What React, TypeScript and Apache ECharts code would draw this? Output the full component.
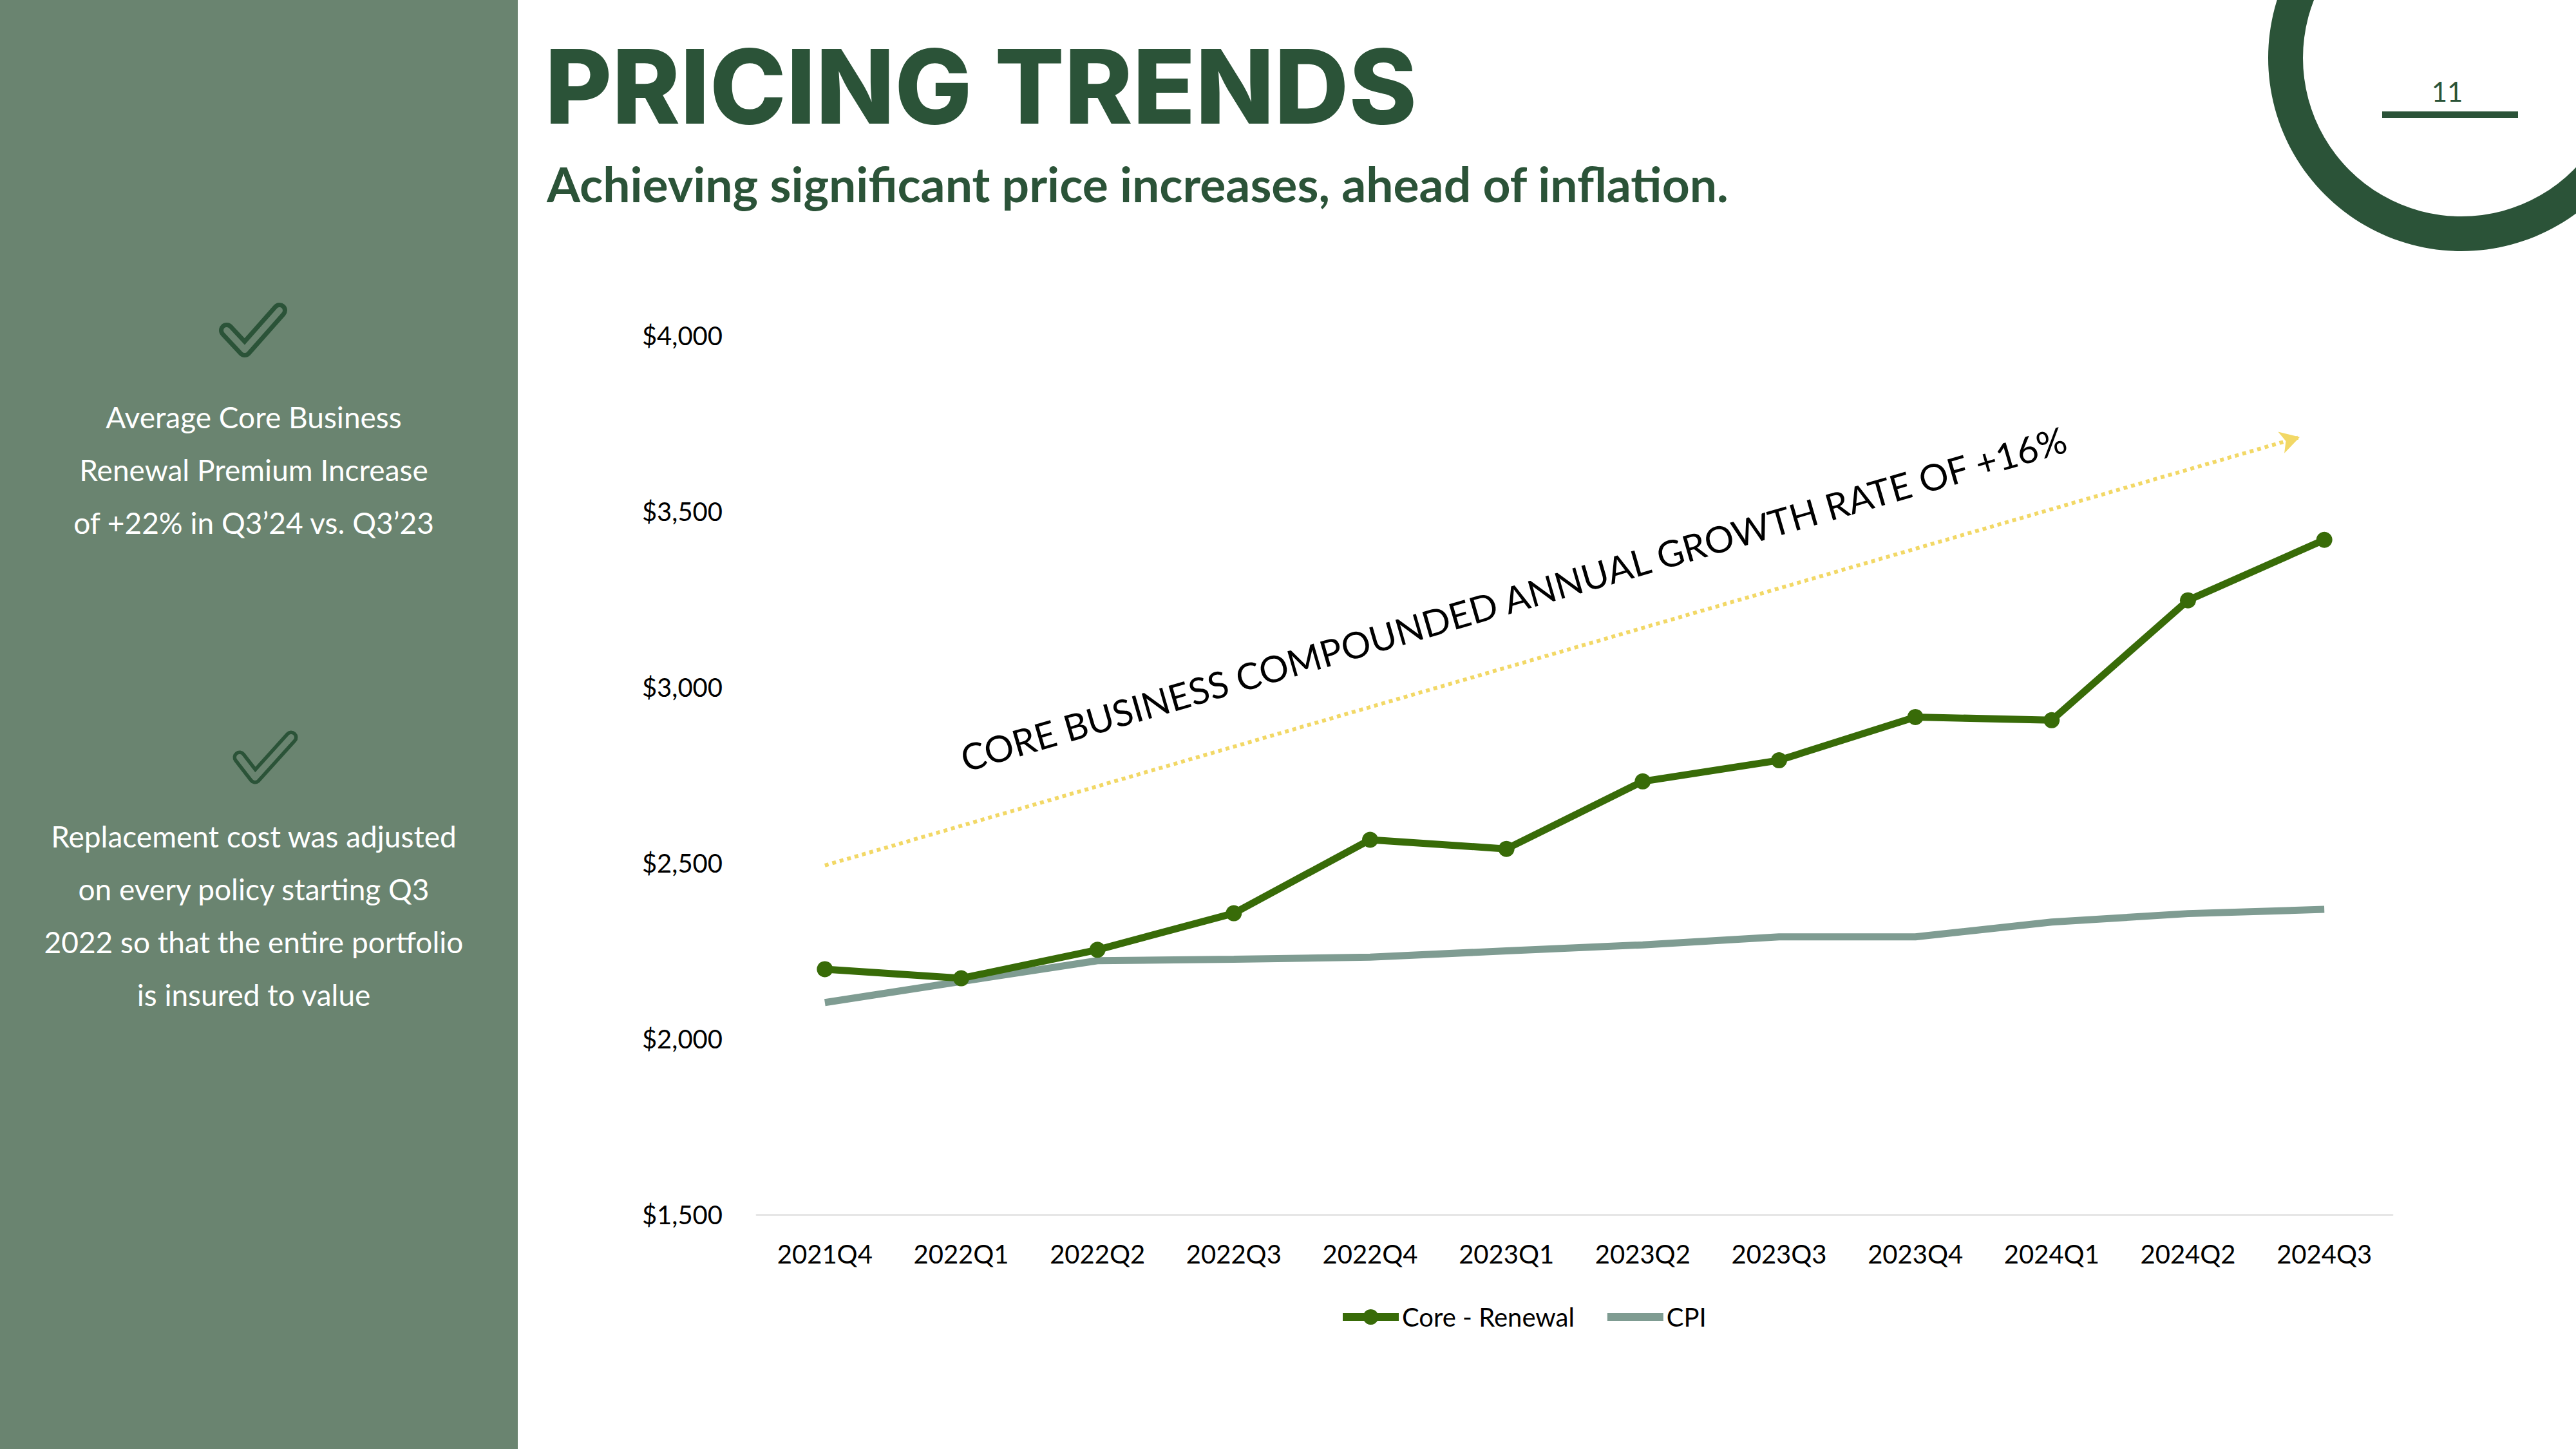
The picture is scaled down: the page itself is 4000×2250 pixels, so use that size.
import React, { useEffect, useRef } from "react";
import * as echarts from "echarts";

const categories = [
  "2021Q4", "2022Q1", "2022Q2", "2022Q3", "2022Q4", "2023Q1",
  "2023Q2", "2023Q3", "2023Q4", "2024Q1", "2024Q2", "2024Q3",
];
const coreRenewal = [2198, 2172, 2253, 2357, 2566, 2540, 2732, 2792, 2915, 2906, 3247, 3419];
const cpi = [2103, 2163, 2222, 2226, 2232, 2250, 2267, 2290, 2290, 2332, 2356, 2368];
// trend arrow: [category position, value]
const trendStart = [0, 2493];
const trendEnd = [10.82, 3711];
const yTicks = { min: 1500, max: 4000, interval: 500 };

const seriesNames = ["Core - Renewal", "CPI"];
const title = "PRICING TRENDS";
const subtitle = "Achieving significant price increases, ahead of inflation.";
const trendLabel = "CORE BUSINESS COMPOUNDED ANNUAL GROWTH RATE OF +16%";
const pageNumber = "11";
const block1 = ["Average Core Business", "Renewal Premium Increase", "of +22% in Q3\u201924 vs. Q3\u201923"];
const block2 = [
  "Replacement cost was adjusted",
  "on every policy starting Q3",
  "2022 so that the entire portfolio",
  "is insured to value",
];

const DARK = "#2b5338";
const PANEL = "#6a8470";
const CORE = "#386b08";
const CPI_C = "#7f9c92";
const TREND = "#f2d866";

export default function App() {
  const ref = useRef<HTMLDivElement>(null);

  useEffect(() => {
    document.body.style.margin = "0";
    if (!ref.current) return;
    const chart = echarts.init(ref.current, undefined, { renderer: "svg" });

    const textLines = (lines: string[], startY: number) =>
      lines.map((t, i) => ({
        type: "text",
        x: 394,
        y: startY + i * 82,
        style: {
          text: t,
          fill: "#ffffff",
          fontSize: 46,
          fontFamily: "Lato",
          align: "center",
          verticalAlign: "middle",
          textAlign: "center",
          textVerticalAlign: "middle",
        },
      }));

    const check = (pts: number[][], outer: number, inner: number) => [
      {
        type: "polyline",
        shape: { points: pts },
        style: { stroke: DARK, lineWidth: outer, fill: null, lineCap: "round", lineJoin: "round" },
      },
      {
        type: "polyline",
        shape: { points: pts },
        style: { stroke: PANEL, lineWidth: inner, fill: null, lineCap: "round", lineJoin: "round" },
      },
    ];

    const option: any = {
      animation: false,
      backgroundColor: "#ffffff",
      graphic: [
        { type: "rect", shape: { x: 0, y: 0, width: 804, height: 2250 }, style: { fill: PANEL }, z: -10 },
        { type: "ring", shape: { cx: 3822, cy: 90, r: 300, r0: 246 }, style: { fill: DARK } },
        {
          type: "text",
          x: 3800,
          y: 142,
          style: {
            text: pageNumber, fill: DARK, fontSize: 42, fontWeight: 400, fontFamily: "Lato",
            align: "center", verticalAlign: "middle", textAlign: "center", textVerticalAlign: "middle",
          },
        },
        { type: "rect", shape: { x: 3699, y: 173, width: 211, height: 10 }, style: { fill: DARK } },
        {
          type: "text",
          x: 846,
          y: 134,
          style: {
            text: title, fill: DARK, fontSize: 160, fontWeight: 800, fontFamily: "Inter",
            align: "left", verticalAlign: "middle", textAlign: "left", textVerticalAlign: "middle",
          },
        },
        {
          type: "text",
          x: 849,
          y: 285,
          style: {
            text: subtitle, fill: DARK, fontSize: 75, fontWeight: "bold", fontFamily: "Lato",
            align: "left", verticalAlign: "middle", textAlign: "left", textVerticalAlign: "middle",
          },
        },
        ...check([[352, 513], [380, 543], [434, 482]], 24, 10),
        ...check([[372, 1176], [396, 1207], [452, 1145]], 21, 10),
        ...textLines(block1, 647),
        ...textLines(block2, 1298),
        {
          type: "text",
          x: 2350,
          y: 929,
          rotation: (16.2 * Math.PI) / 180,
          style: {
            text: trendLabel, fill: "#000000", fontSize: 57, fontFamily: "Lato",
            align: "center", verticalAlign: "middle", textAlign: "center", textVerticalAlign: "middle",
          },
        },
      ],
      grid: { left: 1175, right: 285, top: 521, bottom: 364, containLabel: false },
      legend: {
        data: [
          { name: seriesNames[0] },
          { name: seriesNames[1], itemStyle: { opacity: 0, borderWidth: 0 } },
        ],
        left: 2079,
        top: 2025,
        padding: 0,
        itemWidth: 87,
        itemHeight: 30,
        itemGap: 45,
        lineStyle: { width: 12 },
        textStyle: { fontSize: 40, fontFamily: "Lato", color: "#000000", padding: [0, 0, 0, 0] },
      },
      xAxis: [
        {
          type: "category",
          data: categories,
          boundaryGap: true,
          axisLine: { show: true, lineStyle: { color: "#e6e6e6", width: 3 } },
          axisTick: { show: false },
          axisLabel: { fontSize: 40, fontFamily: "Lato", color: "#000000", margin: 41 },
          splitLine: { show: false },
        },
        { type: "value", min: -0.5, max: 11.5, show: false },
      ],
      yAxis: {
        type: "value",
        min: yTicks.min,
        max: yTicks.max,
        interval: yTicks.interval,
        axisLine: { show: false },
        axisTick: { show: false },
        splitLine: { show: false },
        axisLabel: {
          fontSize: 40,
          fontFamily: "Lato",
          color: "#000000",
          margin: 53,
          formatter: (v: number) => "$" + v.toLocaleString("en-US"),
        },
      },
      series: [
        {
          name: seriesNames[0],
          type: "line",
          data: coreRenewal,
          symbol: "circle",
          symbolSize: 25,
          itemStyle: { color: CORE },
          lineStyle: { color: CORE, width: 11 },
          z: 3,
        },
        {
          name: seriesNames[1],
          type: "line",
          data: cpi,
          symbol: "none",
          itemStyle: { color: CPI_C },
          lineStyle: { color: CPI_C, width: 11 },
          z: 2,
        },
        {
          name: "trend",
          type: "line",
          xAxisIndex: 1,
          data: [trendStart, trendEnd],
          symbol: "none",
          lineStyle: { opacity: 0, width: 0 },
          silent: true,
          markLine: {
            silent: true,
            symbol: ["none", "arrow"],
            symbolSize: [26, 30],
            label: { show: false },
            lineStyle: { type: [6, 6], width: 6, color: TREND },
            data: [[{ coord: trendStart }, { coord: trendEnd }]],
          },
        },
      ],
    };

    chart.setOption(option);
    return () => chart.dispose();
  }, []);

  return (
    <div
      ref={ref}
      style={{ position: "absolute", left: 0, top: 0, width: 4000, height: 2250 }}
    />
  );
}
